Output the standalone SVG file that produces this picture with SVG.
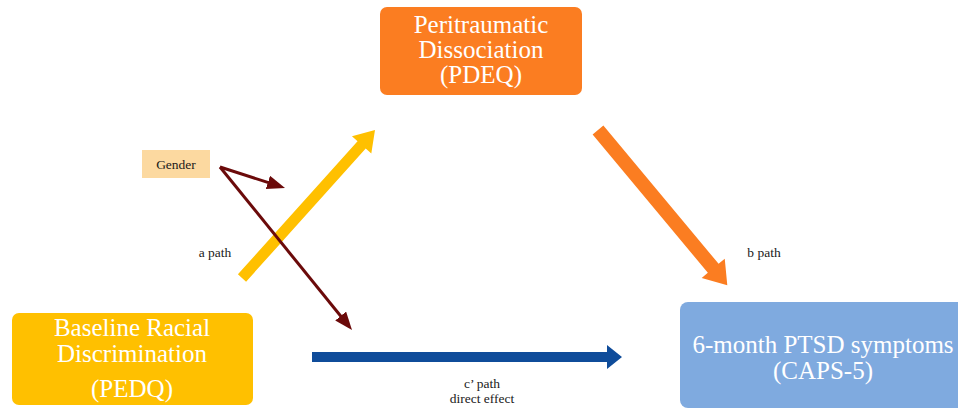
<svg xmlns="http://www.w3.org/2000/svg" width="958" height="410" viewBox="0 0 958 410">
<style>
.box-text{font-family:"Liberation Serif","Times New Roman",serif;font-size:25px;fill:#ffffff;text-anchor:middle}
.lbl{font-family:"Liberation Serif","Times New Roman",serif;font-size:13.5px;fill:#1a1a1a;text-anchor:middle}
.thin{stroke:#6b0a0a;stroke-width:3;fill:none;marker-end:url(#dr)}
</style>
<defs>
<marker id="dr" markerUnits="userSpaceOnUse" markerWidth="20" markerHeight="16" refX="8" refY="7" orient="auto">
<path d="M0,0 L18,7 L0,14 Z" fill="#6b0a0a"/>
</marker>
</defs>
<rect width="958" height="410" fill="#ffffff"/>
<g id="connectors">
<g id="a-path" transform="translate(242,278) rotate(-48.06)">
<polygon points="0,-5.5 179,-5.5 179,-13 199,0 179,13 179,5.5 0,5.5" fill="#ffc000"/>
</g>
<g id="b-path" transform="translate(598,130) rotate(50.2)">
<polygon points="0,-7 180,-7 180,-15 202,0 180,15 180,7 0,7" fill="#fb7d21"/>
</g>
<g id="c-path">
<polygon points="312,352 607,352 607,345 622,357 607,369 607,362 312,362" fill="#0f4c9a"/>
</g>
<line class="thin" x1="220" y1="167" x2="275.5" y2="184.9"/>
<line class="thin" x1="220" y1="167" x2="345.7" y2="322.2"/>
</g>
<g id="node-pdeq">
<rect x="380" y="7" width="202" height="88" rx="7" fill="#fb7d21"/>
<text class="box-text" x="481" y="33">Peritraumatic</text>
<text class="box-text" x="481" y="58">Dissociation</text>
<text class="box-text" x="481" y="83">(PDEQ)</text>
</g>
<g id="node-pedq">
<rect x="12" y="313" width="241" height="92" rx="7" fill="#ffc000"/>
<text class="box-text" x="132" y="336">Baseline Racial</text>
<text class="box-text" x="132" y="362">Discrimination</text>
<text class="box-text" x="132" y="397">(PEDQ)</text>
</g>
<g id="node-caps">
<rect x="680" y="302" width="290" height="106" rx="8" fill="#7faadf"/>
<text class="box-text" x="823" y="353">6-month PTSD symptoms</text>
<text class="box-text" x="823" y="379">(CAPS-5)</text>
</g>
<g id="node-gender">
<rect x="142" y="150" width="68" height="28" fill="#fcd9a0"/>
<text class="lbl" x="176" y="169">Gender</text>
</g>
<g id="labels">
<text class="lbl" x="215" y="257">a path</text>
<text class="lbl" x="764" y="257">b path</text>
<text class="lbl" x="482" y="388">c’ path</text>
<text class="lbl" x="482" y="403">direct effect</text>
</g>
</svg>
